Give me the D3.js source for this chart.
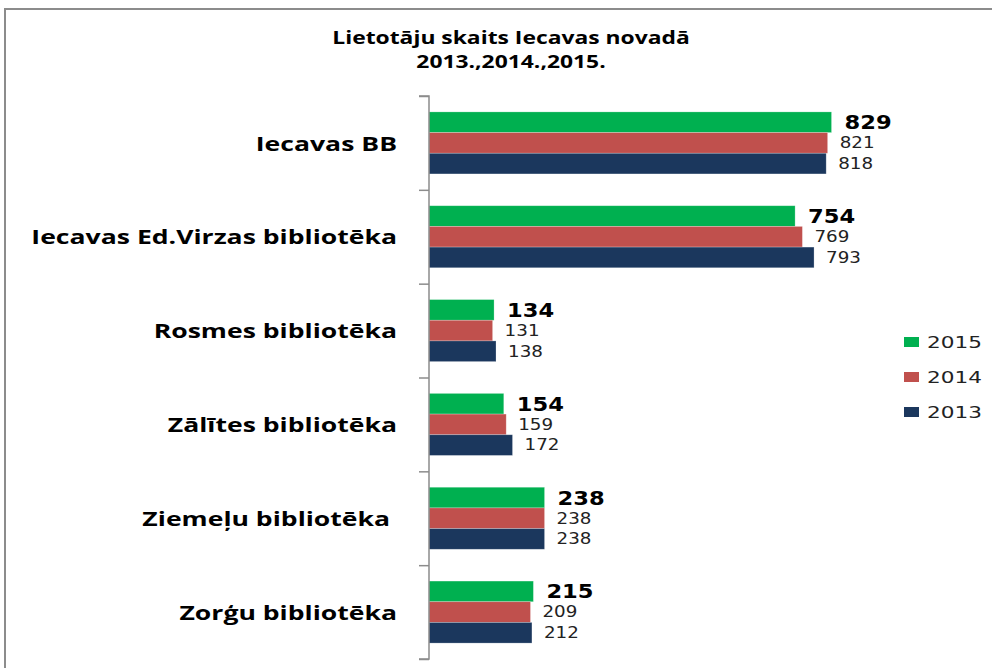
<!DOCTYPE html>
<html lang="lv">
<head>
<meta charset="UTF-8">
<title>Lietotāju skaits Iecavas novadā</title>
<script src="https://d3js.org/d3.v7.min.js"></script>
<style>
  body { margin: 0; background: #fff; }
  svg { display: block; }
</style>
</head>
<body>
<svg id="chart" width="992" height="668"></svg>
<script>
// data
const categories = ["Iecavas BB", "Iecavas Ed.Virzas bibliotēka", "Rosmes bibliotēka",
                    "Zālītes bibliotēka", "Ziemeļu bibliotēka ", "Zorģu bibliotēka"];
const years = ["2015", "2014", "2013"];
const values2015 = [829, 754, 134, 154, 238, 215];
const values2014 = [821, 769, 131, 159, 238, 209];
const values2013 = [818, 793, 138, 172, 238, 212];
const xTicks = [0, 900];

const seriesByYear = { "2015": values2015, "2014": values2014, "2013": values2013 };
const colors = { "2015": "#00B050", "2014": "#C0504D", "2013": "#1B375D" };

const svg = d3.select("#chart");

// outer chart frame (only top and left edges are visible)
svg.append("path")
    .attr("d", "M5,668 V9 H992")
    .attr("fill", "none")
    .attr("stroke", "#8c8c8c")
    .attr("stroke-width", 2);

// title
const title = svg.append("g").attr("font-family", "Open Sans, Liberation Sans, sans-serif")
    .attr("font-weight", "bold").attr("font-size", 18).attr("text-anchor", "middle");
["Lietotāju skaits Iecavas novadā", "2013.,2014.,2015."].forEach(function(t, i) {
    title.append("text")
        .attr("transform", `translate(511,${44 + i * 24}) scale(1.27,1)`)
        .text(t);
});

// scales
const x = d3.scaleLinear().domain(d3.extent(xTicks)).range([429, 866]);
const y = d3.scaleBand().domain(categories).range([96, 659])
    .paddingInner(0.339).paddingOuter(0.1695);
const yInner = d3.scaleBand().domain(years).range([0, y.bandwidth()]);
const yIdx = d3.scaleLinear().domain([0, categories.length]).range([96, 659]);

// bars
years.forEach(function(yr) {
    svg.append("g").selectAll("rect")
        .data(seriesByYear[yr])
        .join("rect")
        .attr("x", x(0))
        .attr("y", (d, i) => y(categories[i]) + yInner(yr))
        .attr("width", d => x(d) - x(0))
        .attr("height", yInner.bandwidth())
        .attr("fill", colors[yr])
        .attr("stroke", "#ffffff")
        .attr("stroke-opacity", 0.35)
        .attr("stroke-width", 0.7);
});

// value labels
years.forEach(function(yr) {
    const bold = yr === "2015";
    svg.append("g").selectAll("text")
        .data(seriesByYear[yr])
        .join("text")
        .attr("transform", (d, i) =>
            `translate(${x(d) + (bold ? 13 : 12)},${y(categories[i]) + yInner(yr) + yInner.bandwidth() / 2}) scale(${bold ? 1.13 : 1.22},1)`)
        .attr("dominant-baseline", "central")
        .attr("font-family", "DejaVu Sans, Verdana, sans-serif")
        .attr("font-weight", bold ? "bold" : "normal")
        .attr("font-size", bold ? 20 : 15)
        .attr("fill", bold ? "#000" : "#222")
        .text(d => d);
});

// category axis with ticks at band boundaries
const axis = svg.append("g")
    .attr("transform", `translate(${x(0)},0)`)
    .call(d3.axisLeft(yIdx).ticks(categories.length).tickSize(10).tickFormat(""));
axis.selectAll("path, line").attr("stroke", "#8c8c8c").attr("stroke-width", 1.5);
axis.select(".domain").attr("d", `M-10,${yIdx(0)}H0V${yIdx(categories.length)}H-10`);

// category labels
svg.append("g").selectAll("text")
    .data(categories)
    .join("text")
    .attr("transform", d => `translate(397,${y(d) + y.bandwidth() / 2}) scale(1.33,1)`)
    .attr("text-anchor", "end")
    .attr("dominant-baseline", "central")
    .attr("font-family", "Open Sans, Liberation Sans, sans-serif")
    .attr("font-weight", "bold")
    .attr("font-size", 20)
    .attr("fill", "#000")
    .attr("xml:space", "preserve")
    .text(d => d);

// legend
const legend = svg.append("g").selectAll("g")
    .data(years)
    .join("g")
    .attr("transform", (d, i) => `translate(904,${342 + i * 35})`);
legend.append("rect")
    .attr("y", -5)
    .attr("width", 15)
    .attr("height", 10)
    .attr("fill", d => colors[d]);
legend.append("text")
    .attr("transform", "translate(23,0) scale(1.35,1)")
    .attr("dominant-baseline", "central")
    .attr("font-family", "DejaVu Sans, Verdana, sans-serif")
    .attr("font-size", 16)
    .attr("fill", "#222")
    .text(d => d);
</script>
</body>
</html>
